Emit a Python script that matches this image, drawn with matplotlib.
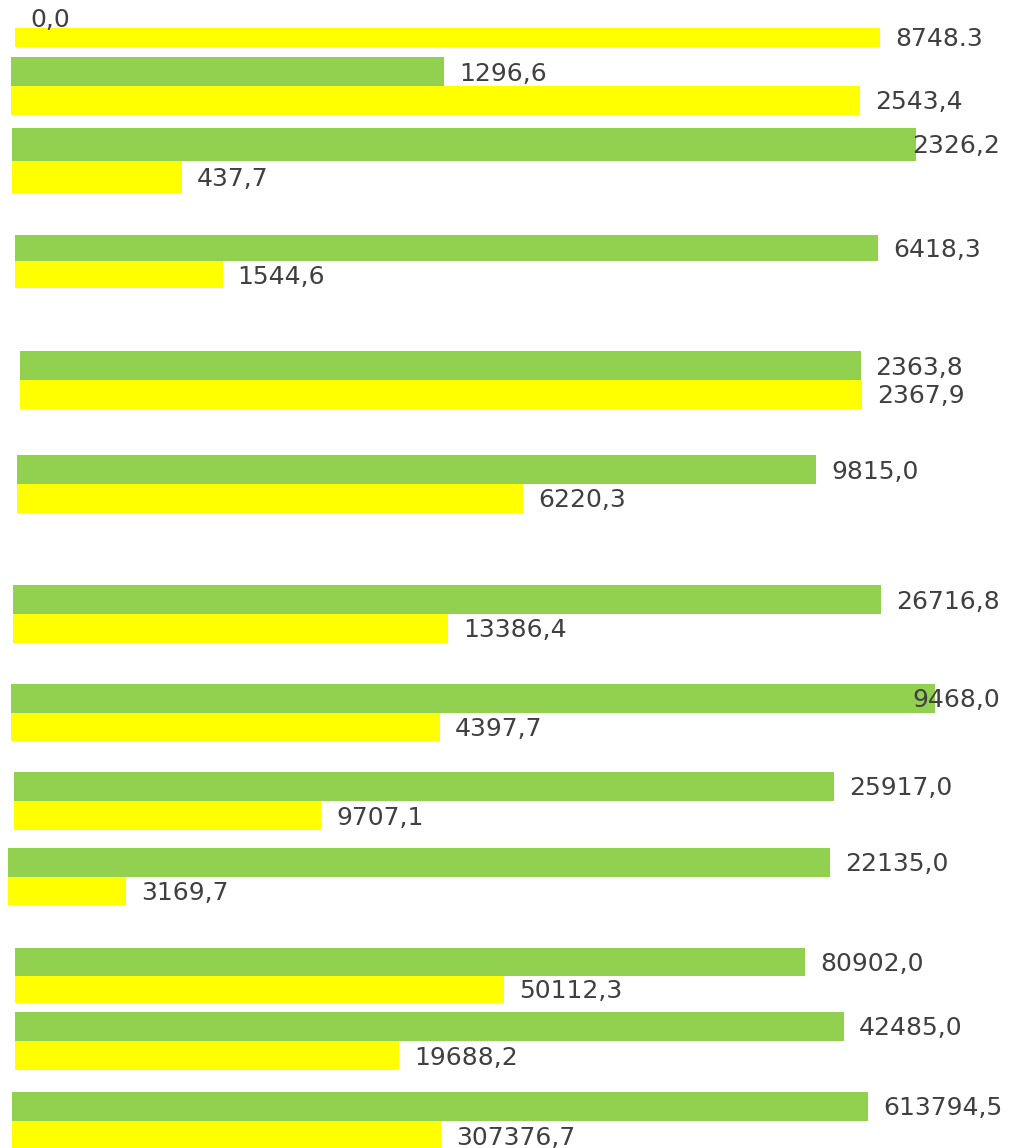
import numpy as np
import matplotlib.pyplot as plt

# values per group (green = first bar, yellow = second bar)
green_vals = [0.0, 1296.6, 2326.2, 6418.3, 2363.8, 9815.0, 26716.8,
              9468.0, 25917.0, 22135.0, 80902.0, 42485.0, 613794.5]
yellow_vals = [8748.3, 2543.4, 437.7, 1544.6, 2367.9, 6220.3, 13386.4,
               4397.7, 9707.1, 3169.7, 50112.3, 19688.2, 307376.7]
green_labels = ['0,0', '1296,6', '2326,2', '6418,3', '2363,8', '9815,0', '26716,8',
                '9468,0', '25917,0', '22135,0', '80902,0', '42485,0', '613794,5']
yellow_labels = ['8748.3', '2543,4', '437,7', '1544,6', '2367,9', '6220,3', '13386,4',
                 '4397,7', '9707,1', '3169,7', '50112,3', '19688,2', '307376,7']

# layout of each group's little axes in pixels: top, bottom, left, right (end of longest bar)
boxes = [(9, 47, 15, 880), (57, 115, 11, 860), (128, 193, 12, 916), (235, 288, 15, 878),
         (351, 409, 20, 862), (455, 513, 17, 816), (585, 643, 13, 881), (684, 741, 11, 935),
         (772, 830, 14, 834), (848, 905, 8, 830), (948, 1003, 15, 805), (1012, 1070, 15, 844),
         (1092, 1150, 12, 868)]

W, H = 1010, 1148
fig = plt.figure(figsize=(W / 100, H / 100), dpi=100)
fig.patch.set_facecolor('white')

GREEN = '#92D050'
YELLOW = '#FFFF00'
TXT = '#404040'

texts = []
for i, (top, bot, left, right) in enumerate(boxes):
    ax = fig.add_axes([left / W, 1 - bot / H, (right - left) / W, (bot - top) / H])
    vals = [green_vals[i], yellow_vals[i]]
    ax.barh([0, 1], vals, height=1.0, color=[GREEN, YELLOW])
    ax.set_xlim(0, max(vals))
    ax.set_ylim(1.5, -0.5)
    ax.axis('off')
    for j, (v, lab) in enumerate(zip(vals, [green_labels[i], yellow_labels[i]])):
        t = ax.annotate(lab, xy=(v, j), xytext=(15, -2), textcoords='offset pixels',
                        va='center', ha='left', fontsize=18, color=TXT,
                        annotation_clip=False)
        texts.append(t)

# keep labels inside the picture, like the original does
fig.canvas.draw()
r = fig.canvas.get_renderer()
for t in texts:
    bb = t.get_window_extent(r)
    if bb.x1 > W - 6:
        t.set_position((t.get_position()[0] - (bb.x1 - (W - 10)), -2))

fig.savefig('out.png', dpi=100)
